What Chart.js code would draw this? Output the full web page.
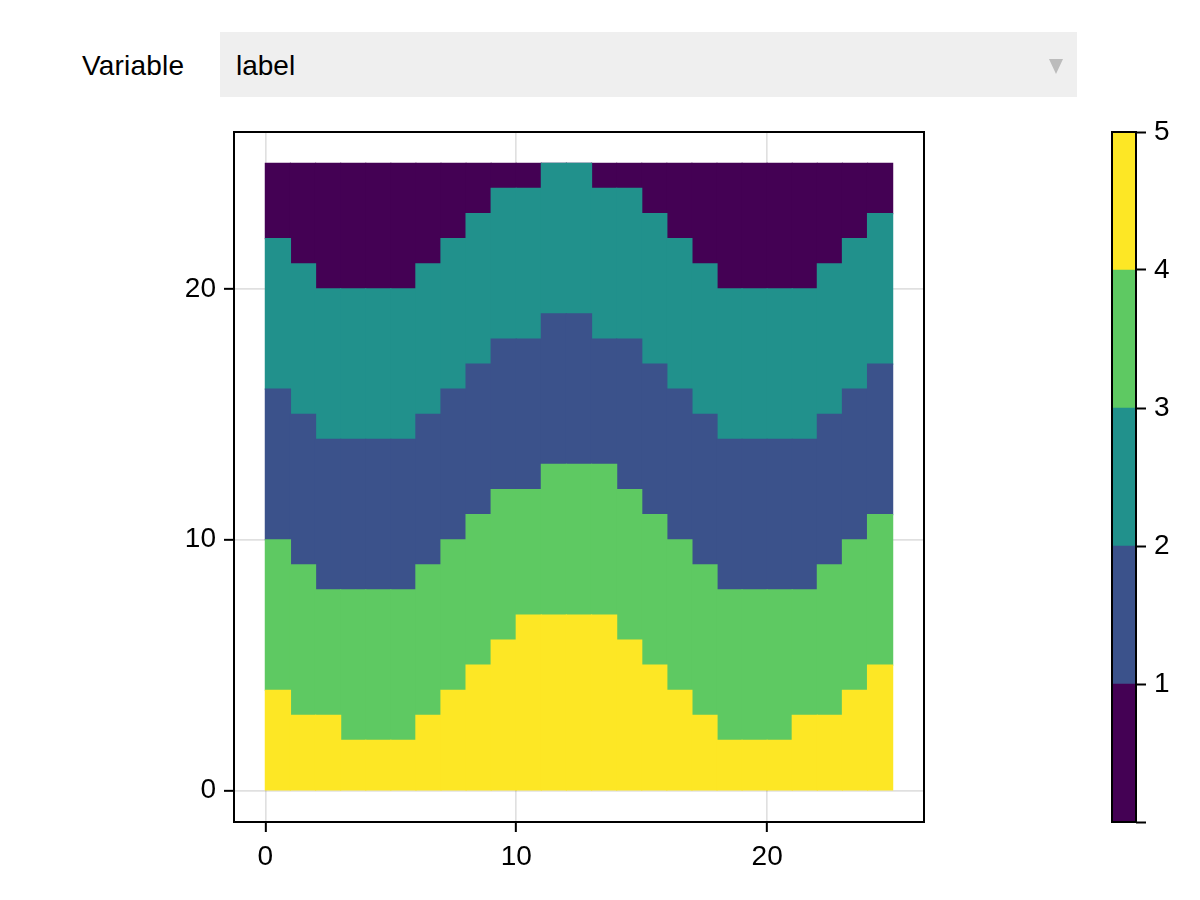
<!DOCTYPE html>
<html>
<head>
<meta charset="utf-8">
<script src="https://cdn.jsdelivr.net/npm/chart.js@4"></script>
<style>
    html, body { margin: 0; padding: 0; background: #fff; }
    body { width: 1200px; height: 900px; position: relative; overflow: hidden; font-family: "Liberation Sans", sans-serif; font-size: 28px; color: #000; }
    canvas { position: absolute; }
    #varLabel { position: absolute; left: 82px; top: 51px; line-height: 30px; letter-spacing: 0.2px; }
    #menu { position: absolute; left: 220px; top: 32px; width: 857px; height: 65px; background: #efefef; }
    #menuText { position: absolute; left: 16px; top: 19px; line-height: 30px; }
    #menuArrow { position: absolute; left: 829px; top: 27px; width: 0; height: 0; border-left: 7.5px solid transparent; border-right: 7.5px solid transparent; border-top: 15px solid #bcbcbc; }
</style>
</head>
<body>
<div id="varLabel">Variable</div>
<div id="menu"><span id="menuText">label</span><div id="menuArrow"></div></div>
<canvas id="heatCanvas" style="left:160px; top:120px;" width="800" height="770"></canvas>
<canvas id="barCanvas" style="left:1100px; top:120px;" width="100" height="720"></canvas>
<script>
// 열별 경계값
var columns = [0,1,2,3,4,5,6,7,8,9,10,11,12,13,14,15,16,17,18,19,20,21,22,23,24];
var yellowTop = [4,3,3,2,2,2,3,4,5,6,7,7,7,7,6,5,4,3,2,2,2,3,3,4,5];
var greenTop  = [10,9,8,8,8,8,9,10,11,12,12,13,13,13,12,11,10,9,8,8,8,8,9,10,11];
var blueTop   = [16,15,14,14,14,14,15,16,17,18,18,19,19,18,18,17,16,15,14,14,14,14,15,16,17];
var tealTop   = [22,21,20,20,20,20,21,22,23,24,24,25,25,24,24,23,22,21,20,20,20,20,21,22,23];
var purpleTop = [25,25,25,25,25,25,25,25,25,25,25,25,25,25,25,25,25,25,25,25,25,25,25,25,25];
var bottom    = [0,0,0,0,0,0,0,0,0,0,0,0,0,0,0,0,0,0,0,0,0,0,0,0,0];

var colorbarEdges = [0,1,2,3,4,5];
var colors = ["#440154", "#3b528b", "#21918c", "#5ec962", "#fde725"];

var FONT = { family: "Liberation Sans", size: 28 };
var LINE = 2;

// 바깥 테두리
var framePlugin = {
    id: "frame",
    afterDraw: function(chart) {
        var a = chart.chartArea;
        var ctx = chart.ctx;
        ctx.save();
        ctx.strokeStyle = "#000";
        ctx.lineWidth = LINE;
        ctx.strokeRect(a.left, a.top, a.right - a.left, a.bottom - a.top);
        ctx.restore();
    }
};

// 축 라벨 여백이 플롯 영역을 밀어내지 않도록 함
function clearPadding(scale) {
    scale.paddingTop = 0;
    scale.paddingBottom = 0;
    scale.paddingLeft = 0;
    scale.paddingRight = 0;
}

function band(lower, upper, color) {
    var data = [];
    for (var i = 0; i < columns.length; i++) {
        data.push({ x: columns[i] + 0.5, y: [lower[i], upper[i]] });
    }
    // inflateAmount: 열 사이 틈 방지
    return { data: data, backgroundColor: color, borderWidth: 0, inflateAmount: 0.6, grouped: false, barPercentage: 1, categoryPercentage: 1 };
}

function heatAxis(size, side) {
    return {
        type: "linear",
        position: side,
        offset: false,
        min: -1.25,
        max: 26.25,
        border: { display: false },
        grid: { offset: false, color: "rgba(0,0,0,0.12)", lineWidth: 1.67, tickColor: "#000", tickWidth: LINE, tickLength: 10 },
        ticks: { stepSize: 10, includeBounds: false, autoSkip: false, maxRotation: 0, color: "#000", font: FONT, padding: 8 },
        afterFit: function(scale) {
            if (side === "left") { scale.width = size; } else { scale.height = size; }
            clearPadding(scale);
        }
    };
}

new Chart(document.getElementById("heatCanvas"), {
    type: "bar",
    data: {
        datasets: [
            band(bottom, yellowTop, colors[4]),
            band(yellowTop, greenTop, colors[3]),
            band(greenTop, blueTop, colors[1]),
            band(blueTop, tealTop, colors[2]),
            band(tealTop, purpleTop, colors[0])
        ]
    },
    options: {
        responsive: false,
        animation: false,
        devicePixelRatio: 1,
        layout: { padding: { left: 0, top: 12, right: 36, bottom: 0 } },
        plugins: { legend: { display: false }, tooltip: { enabled: false } },
        scales: { x: heatAxis(68, "bottom"), y: heatAxis(74, "left") }
    },
    plugins: [framePlugin]
});

var barSets = [];
for (var k = 0; k < colors.length; k++) {
    barSets.push({ data: [[colorbarEdges[k], colorbarEdges[k + 1]]], backgroundColor: colors[k], borderWidth: 0, grouped: false, barPercentage: 1, categoryPercentage: 1 });
}

new Chart(document.getElementById("barCanvas"), {
    type: "bar",
    data: { labels: [""], datasets: barSets },
    options: {
        responsive: false,
        animation: false,
        devicePixelRatio: 1,
        layout: { padding: { left: 12, top: 12, right: 0, bottom: 18 } },
        plugins: { legend: { display: false }, tooltip: { enabled: false } },
        scales: {
            x: { display: false },
            y: {
                position: "right",
                min: 0,
                max: 5,
                border: { display: false },
                grid: { drawOnChartArea: false, tickColor: "#000", tickWidth: LINE, tickLength: 10 },
                ticks: {
                    stepSize: 1,
                    color: "#000",
                    font: FONT,
                    padding: 8,
                    callback: function(v) { return v === 0 ? "" : v; }
                },
                afterFit: function(scale) {
                    scale.width = 64;
                    clearPadding(scale);
                }
            }
        }
    },
    plugins: [framePlugin]
});
</script>
</body>
</html>
